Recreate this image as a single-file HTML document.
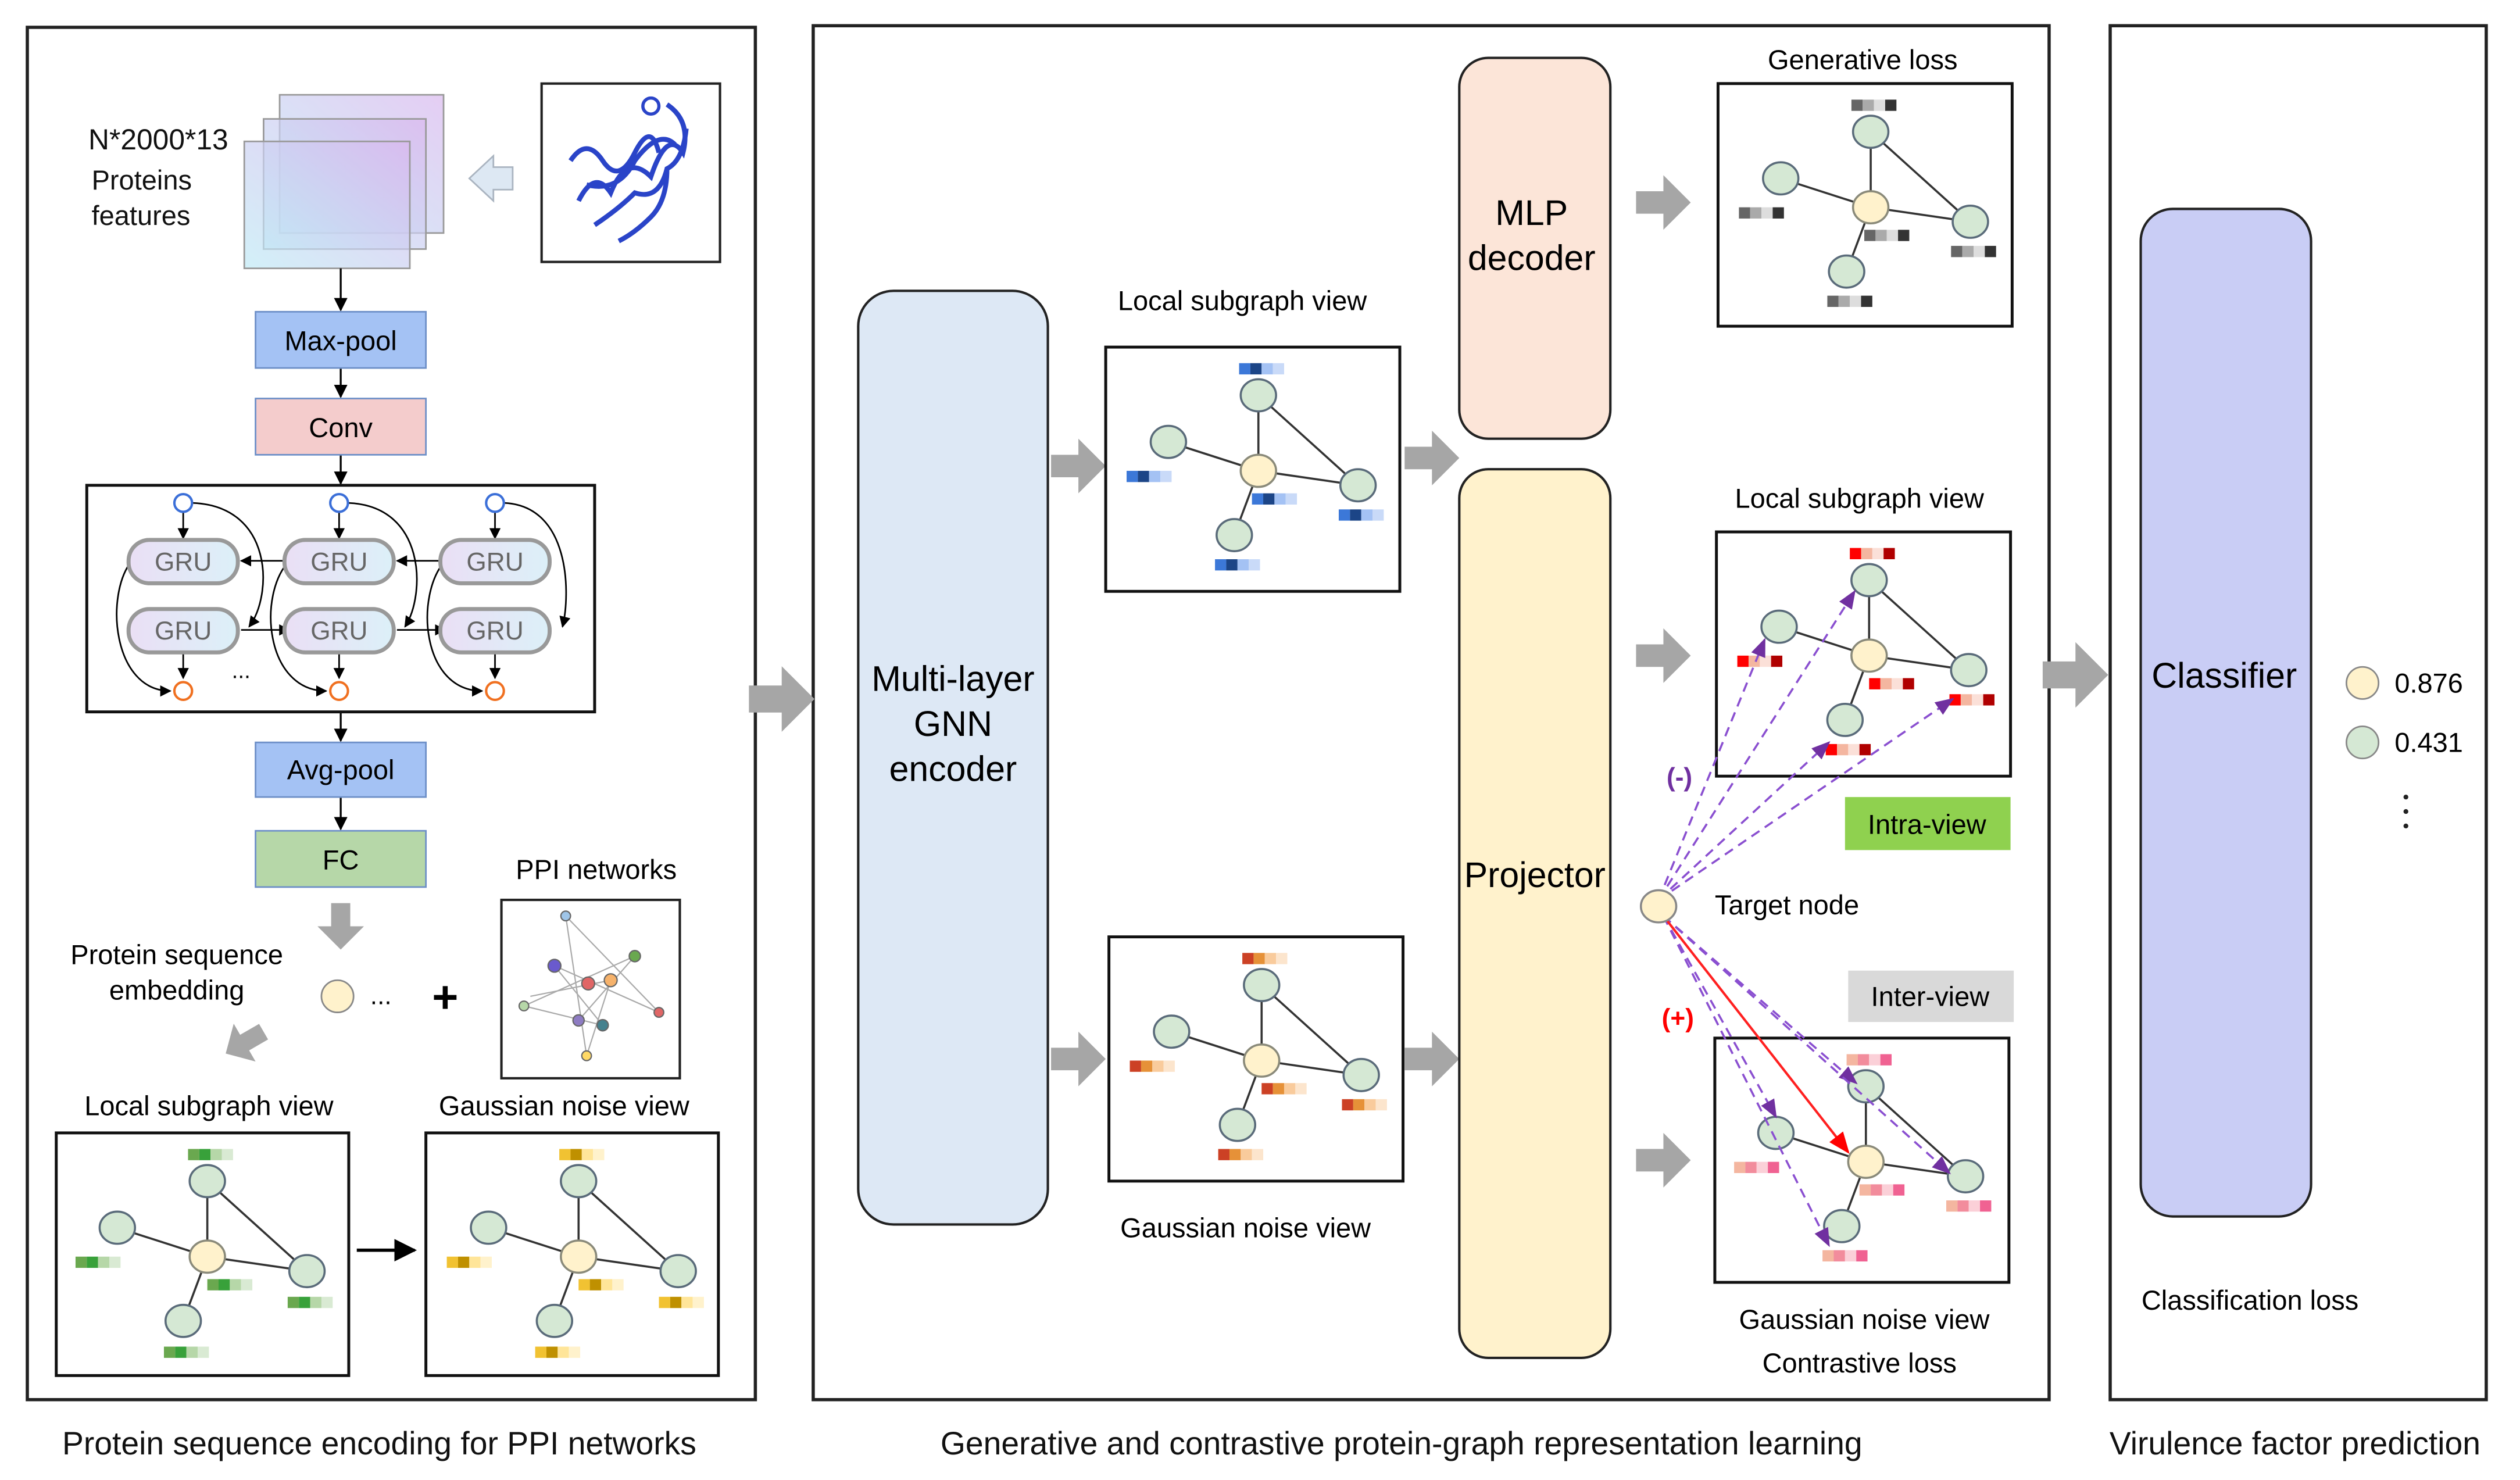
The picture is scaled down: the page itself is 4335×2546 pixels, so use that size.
<!DOCTYPE html>
<html><head><meta charset="utf-8"><style>html,body{margin:0;padding:0;background:#fff}svg{display:block}text{font-family:"Liberation Sans",Arial,sans-serif}</style></head>
<body>
<svg width="4335" height="2546" viewBox="0 0 1568 921" preserveAspectRatio="none" xmlns="http://www.w3.org/2000/svg" xmlns:xlink="http://www.w3.org/1999/xlink">
<defs>
<linearGradient id="fg" x1="0" y1="1" x2="1" y2="0"><stop offset="0" stop-color="#bfeaf5"/><stop offset="1" stop-color="#d9b8ee"/></linearGradient>
<linearGradient id="gru" x1="0" y1="0" x2="1" y2="0"><stop offset="0" stop-color="#eadff5"/><stop offset="1" stop-color="#dcf0f8"/></linearGradient>
<marker id="ah" viewBox="0 0 10 10" refX="9" refY="5" markerWidth="7" markerHeight="7" orient="auto"><path d="M0,0 L10,5 L0,10 z" fill="#000"/></marker>
<marker id="ap" viewBox="0 0 10 10" refX="9" refY="5" markerWidth="9" markerHeight="9" orient="auto"><path d="M0,1 L10,5 L0,9 z" fill="#7030a0"/></marker>
<marker id="ar" viewBox="0 0 10 10" refX="9" refY="5" markerWidth="9" markerHeight="9" orient="auto"><path d="M0,1 L10,5 L0,9 z" fill="#ff0000"/></marker>
<path id="ga" d="M0,-7 H17 V-17 L34,0 L17,17 V7 H0 Z" fill="#a6a6a6"/>
<g id="sk">
<g stroke="#333" stroke-width="1.3"><line x1="0" y1="0" x2="0" y2="-47"/><line x1="0" y1="0" x2="-56" y2="-18"/><line x1="0" y1="0" x2="62" y2="9"/><line x1="0" y1="0" x2="-15" y2="40"/><line x1="0" y1="-47" x2="62" y2="9"/></g>
<g stroke="#5a6b7a" stroke-width="1.3" fill="#d5e8d4"><ellipse cx="0" cy="-47" rx="11" ry="10"/><ellipse cx="-56" cy="-18" rx="11" ry="10"/><ellipse cx="62" cy="9" rx="11" ry="10"/><ellipse cx="-15" cy="40" rx="11" ry="10"/></g>
<ellipse cx="0" cy="0" rx="11" ry="10" fill="#fff2cc" stroke="#8a8a7a" stroke-width="1.3"/>
</g>
<g id="bG"><rect width="7" height="7" fill="#6aa84f"/><rect x="7" width="7" height="7" fill="#38a13a"/><rect x="14" width="7" height="7" fill="#b6d7a8"/><rect x="21" width="7" height="7" fill="#d9ead3"/></g>
<g id="bY"><rect width="7" height="7" fill="#f1c232"/><rect x="7" width="7" height="7" fill="#bf9000"/><rect x="14" width="7" height="7" fill="#ffe599"/><rect x="21" width="7" height="7" fill="#fff2cc"/></g>
<g id="bB"><rect width="7" height="7" fill="#3c78d8"/><rect x="7" width="7" height="7" fill="#1c4587"/><rect x="14" width="7" height="7" fill="#a4c2f4"/><rect x="21" width="7" height="7" fill="#c9daf8"/></g>
<g id="bO"><rect width="7" height="7" fill="#cc4125"/><rect x="7" width="7" height="7" fill="#e69138"/><rect x="14" width="7" height="7" fill="#f9cb9c"/><rect x="21" width="7" height="7" fill="#fce5cd"/></g>
<g id="bK"><rect width="7" height="7" fill="#666"/><rect x="7" width="7" height="7" fill="#aaa"/><rect x="14" width="7" height="7" fill="#ddd"/><rect x="21" width="7" height="7" fill="#333"/></g>
<g id="bR"><rect width="7" height="7" fill="#ff0000"/><rect x="7" width="7" height="7" fill="#f4b6a0"/><rect x="14" width="7" height="7" fill="#fbe0d8"/><rect x="21" width="7" height="7" fill="#b00000"/></g>
<g id="bP"><rect width="7" height="7" fill="#f4b6a0"/><rect x="7" width="7" height="7" fill="#f28c9c"/><rect x="14" width="7" height="7" fill="#fbd0d8"/><rect x="21" width="7" height="7" fill="#f06292"/></g>
</defs>

<g fill="none" stroke="#222" stroke-width="2">
<rect x="17" y="17" width="453" height="854"/>
<rect x="506" y="16" width="769" height="855"/>
<rect x="1313" y="16" width="234" height="855"/>
</g>
<g font-size="20" fill="#111" text-anchor="middle">
<text x="236" y="905">Protein sequence encoding for PPI networks</text>
<text x="872" y="905">Generative and contrastive protein-graph representation learning</text>
<text x="1428" y="905">Virulence factor prediction</text>
</g>

<g stroke="#999" stroke-width="1" fill="url(#fg)" fill-opacity="0.7">
<rect x="174" y="59" width="102" height="86"/>
<rect x="164" y="74" width="101" height="81"/>
<rect x="152" y="88" width="103" height="79"/>
</g>
<text x="55" y="93" font-size="18" fill="#111">N*2000*13</text>
<text x="57" y="118" font-size="17" fill="#111">Proteins</text>
<text x="57" y="140" font-size="17" fill="#111">features</text>
<path d="M292,111 L307,97 V104 H319 V118 H307 V125 Z" fill="#dde8f3" stroke="#aab4c0" stroke-width="1"/>
<rect x="337" y="52" width="111" height="111" fill="#fff" stroke="#222" stroke-width="1.5"/>
<g fill="none" stroke="#2a44c8" stroke-width="3">
<path d="M360,125 q10,-20 20,-5 q10,-25 25,-10 q10,-30 20,-15 q5,-20 -10,-30"/>
<path d="M370,140 q15,-10 25,-20 q15,5 20,-15 q10,-5 12,-25"/>
<path d="M355,100 q10,-15 20,0 q10,15 20,-5 q10,-20 15,0"/>
<path d="M385,150 q10,-5 20,-15 q10,-10 10,-30"/>
<path d="M365,115 q20,5 30,-15 q15,-20 25,-10"/>
</g>
<circle cx="405" cy="66" r="5" fill="none" stroke="#2a44c8" stroke-width="2"/>

<g stroke="#000" stroke-width="1.2" marker-end="url(#ah)">
<line x1="212" y1="167" x2="212" y2="193"/>
<line x1="212" y1="229" x2="212" y2="247"/>
<line x1="212" y1="283" x2="212" y2="301"/>
<line x1="212" y1="443" x2="212" y2="461"/>
<line x1="212" y1="496" x2="212" y2="516"/>
</g>
<rect x="159" y="194" width="106" height="35" fill="#a4c2f4" stroke="#6d8fc7"/>
<text x="212" y="218" font-size="17" text-anchor="middle">Max-pool</text>
<rect x="159" y="248" width="106" height="35" fill="#f4cccc" stroke="#6d8fc7"/>
<text x="212" y="272" font-size="17" text-anchor="middle">Conv</text>
<rect x="54" y="302" width="316" height="141" fill="#fff" stroke="#111" stroke-width="1.8"/>
<rect x="159" y="462" width="106" height="34" fill="#a4c2f4" stroke="#6d8fc7"/>
<text x="212" y="485" font-size="17" text-anchor="middle">Avg-pool</text>
<rect x="159" y="517" width="106" height="35" fill="#b6d7a8" stroke="#6d8fc7"/>
<text x="212" y="541" font-size="17" text-anchor="middle">FC</text>

<g fill="none" stroke="#000" stroke-width="1" marker-end="url(#ah)">
<line x1="114" y1="319" x2="114" y2="335"/><line x1="211" y1="319" x2="211" y2="335"/><line x1="308" y1="319" x2="308" y2="335"/>
<line x1="114" y1="406" x2="114" y2="422"/><line x1="211" y1="406" x2="211" y2="422"/><line x1="308" y1="406" x2="308" y2="422"/>
<line x1="180" y1="349" x2="150" y2="349"/><line x1="277" y1="349" x2="247" y2="349"/>
<line x1="150" y1="392" x2="180" y2="392"/><line x1="247" y1="392" x2="277" y2="392"/>
<path d="M120,313 C170,315 170,370 155,390"/><path d="M217,313 C265,315 265,370 252,390"/><path d="M314,313 C355,315 355,370 350,390"/>
<path d="M82,349 C65,370 70,430 106,430"/><path d="M180,349 C160,370 165,430 203,430"/><path d="M277,349 C258,370 262,430 300,430"/>
</g>
<g stroke="#999" stroke-width="2.5" fill="url(#gru)">
<rect x="80" y="336" width="68" height="27" rx="13"/><rect x="177" y="336" width="68" height="27" rx="13"/><rect x="274" y="336" width="68" height="27" rx="13"/>
<rect x="80" y="379" width="68" height="27" rx="13"/><rect x="177" y="379" width="68" height="27" rx="13"/><rect x="274" y="379" width="68" height="27" rx="13"/>
</g>
<g font-size="16" fill="#666" text-anchor="middle">
<text x="114" y="355">GRU</text><text x="211" y="355">GRU</text><text x="308" y="355">GRU</text>
<text x="114" y="398">GRU</text><text x="211" y="398">GRU</text><text x="308" y="398">GRU</text>
</g>
<g fill="#fff" stroke="#3b6fd8" stroke-width="1.5"><circle cx="114" cy="313" r="5.5"/><circle cx="211" cy="313" r="5.5"/><circle cx="308" cy="313" r="5.5"/></g>
<g fill="#fff" stroke="#f07020" stroke-width="1.5"><circle cx="114" cy="430" r="5.5"/><circle cx="211" cy="430" r="5.5"/><circle cx="308" cy="430" r="5.5"/></g>
<text x="150" y="422" font-size="14" text-anchor="middle">...</text>

<use xlink:href="#ga" transform="translate(212,562) rotate(90) scale(0.85)"/>
<text x="110" y="600" font-size="17" text-anchor="middle">Protein sequence</text>
<text x="110" y="622" font-size="17" text-anchor="middle">embedding</text>
<ellipse cx="210" cy="620" rx="10" ry="10" fill="#fff2cc" stroke="#888"/>
<text x="237" y="625" font-size="16" text-anchor="middle">...</text>
<text x="277" y="630" font-size="28" text-anchor="middle" font-weight="bold">+</text>
<text x="371" y="547" font-size="17" text-anchor="middle">PPI networks</text>
<rect x="312" y="560" width="111" height="111" fill="#fff" stroke="#222" stroke-width="1.5"/>
<g stroke="#aaa" stroke-width="0.8">
<line x1="326" y1="626" x2="395" y2="595"/><line x1="345" y1="601" x2="410" y2="630"/><line x1="352" y1="570" x2="365" y2="657"/><line x1="330" y1="620" x2="380" y2="610"/><line x1="345" y1="601" x2="375" y2="638"/><line x1="395" y1="595" x2="360" y2="635"/><line x1="352" y1="570" x2="410" y2="630"/><line x1="326" y1="626" x2="375" y2="638"/><line x1="380" y1="610" x2="365" y2="657"/>
</g>
<g stroke="#666" stroke-width="0.8"><circle cx="352" cy="570" r="3" fill="#9fc5e8"/><circle cx="345" cy="601" r="4" fill="#6a5acd"/><circle cx="395" cy="595" r="3.5" fill="#6aa84f"/><circle cx="380" cy="610" r="4" fill="#f6b26b"/><circle cx="366" cy="612" r="4" fill="#e06666"/><circle cx="326" cy="626" r="3" fill="#b6d7a8"/><circle cx="360" cy="635" r="3.5" fill="#8e7cc3"/><circle cx="375" cy="638" r="3.5" fill="#45818e"/><circle cx="410" cy="630" r="3" fill="#e06666"/><circle cx="365" cy="657" r="3" fill="#ffd966"/></g>
<use xlink:href="#ga" transform="translate(164,642) rotate(150) scale(0.8)"/>
<text x="130" y="694" font-size="17" text-anchor="middle">Local subgraph view</text>
<text x="351" y="694" font-size="17" text-anchor="middle">Gaussian noise view</text>
<rect x="35" y="705" width="182" height="151" fill="#fff" stroke="#111" stroke-width="1.8"/>
<rect x="265" y="705" width="182" height="151" fill="#fff" stroke="#111" stroke-width="1.8"/>
<line x1="222" y1="778" x2="258" y2="778" stroke="#000" stroke-width="2" marker-end="url(#ah)"/>
<g transform="translate(129,782)"><use xlink:href="#sk"/><use xlink:href="#bG" x="-12" y="-67"/><use xlink:href="#bG" x="-82" y="0"/><use xlink:href="#bG" x="50" y="25"/><use xlink:href="#bG" x="-27" y="56"/><use xlink:href="#bG" x="0" y="14"/></g>
<g transform="translate(360,782)"><use xlink:href="#sk"/><use xlink:href="#bY" x="-12" y="-67"/><use xlink:href="#bY" x="-82" y="0"/><use xlink:href="#bY" x="50" y="25"/><use xlink:href="#bY" x="-27" y="56"/><use xlink:href="#bY" x="0" y="14"/></g>

<use xlink:href="#ga" transform="translate(466,435) scale(1.2)"/>
<rect x="534" y="181" width="118" height="581" rx="22" fill="#dde8f5" stroke="#222" stroke-width="1.5"/>
<g font-size="22" text-anchor="middle"><text x="593" y="430">Multi-layer</text><text x="593" y="458">GNN</text><text x="593" y="486">encoder</text></g>
<use xlink:href="#ga" transform="translate(654,290)"/>
<use xlink:href="#ga" transform="translate(654,659)"/>
<text x="773" y="193" font-size="17" text-anchor="middle">Local subgraph view</text>
<rect x="688" y="216" width="183" height="152" fill="#fff" stroke="#111" stroke-width="1.8"/>
<g transform="translate(783,293)"><use xlink:href="#sk"/><use xlink:href="#bB" x="-12" y="-67"/><use xlink:href="#bB" x="-82" y="0"/><use xlink:href="#bB" x="50" y="24"/><use xlink:href="#bB" x="-27" y="55"/><use xlink:href="#bB" x="-4" y="14"/></g>
<rect x="690" y="583" width="183" height="152" fill="#fff" stroke="#111" stroke-width="1.8"/>
<g transform="translate(785,660)"><use xlink:href="#sk"/><use xlink:href="#bO" x="-12" y="-67"/><use xlink:href="#bO" x="-82" y="0"/><use xlink:href="#bO" x="50" y="24"/><use xlink:href="#bO" x="-27" y="55"/><use xlink:href="#bO" x="0" y="14"/></g>
<text x="775" y="770" font-size="17" text-anchor="middle">Gaussian noise view</text>
<use xlink:href="#ga" transform="translate(874,285)"/>
<use xlink:href="#ga" transform="translate(874,659)"/>
<rect x="908" y="36" width="94" height="237" rx="18" fill="#fce5d8" stroke="#222" stroke-width="1.5"/>
<g font-size="22" text-anchor="middle"><text x="953" y="140">MLP</text><text x="953" y="168">decoder</text></g>
<rect x="908" y="292" width="94" height="553" rx="18" fill="#fff2cc" stroke="#222" stroke-width="1.5"/>
<text x="955" y="552" font-size="22" text-anchor="middle">Projector</text>
<use xlink:href="#ga" transform="translate(1018,126)"/>
<use xlink:href="#ga" transform="translate(1018,408)"/>
<use xlink:href="#ga" transform="translate(1018,722)"/>
<text x="1159" y="43" font-size="17" text-anchor="middle">Generative loss</text>
<rect x="1069" y="52" width="183" height="151" fill="#fff" stroke="#111" stroke-width="1.8"/>
<g transform="translate(1164,129)"><use xlink:href="#sk"/><use xlink:href="#bK" x="-12" y="-67"/><use xlink:href="#bK" x="-82" y="0"/><use xlink:href="#bK" x="50" y="24"/><use xlink:href="#bK" x="-27" y="55"/><use xlink:href="#bK" x="-4" y="14"/></g>
<text x="1157" y="316" font-size="17" text-anchor="middle">Local subgraph view</text>
<rect x="1068" y="331" width="183" height="152" fill="#fff" stroke="#111" stroke-width="1.8"/>
<g transform="translate(1163,408)"><use xlink:href="#sk"/><use xlink:href="#bR" x="-12" y="-67"/><use xlink:href="#bR" x="-82" y="0"/><use xlink:href="#bR" x="50" y="24"/><use xlink:href="#bR" x="-27" y="55"/><use xlink:href="#bR" x="0" y="14"/></g>
<rect x="1148" y="496" width="103" height="33" fill="#8fd14f"/>
<text x="1199" y="519" font-size="17" text-anchor="middle">Intra-view</text>
<rect x="1150" y="604" width="103" height="32" fill="#d9d9d9"/>
<text x="1201" y="626" font-size="17" text-anchor="middle">Inter-view</text>
<rect x="1067" y="646" width="183" height="152" fill="#fff" stroke="#111" stroke-width="1.8"/>
<g transform="translate(1161,723)"><use xlink:href="#sk"/><use xlink:href="#bP" x="-12" y="-67"/><use xlink:href="#bP" x="-82" y="0"/><use xlink:href="#bP" x="50" y="24"/><use xlink:href="#bP" x="-27" y="55"/><use xlink:href="#bP" x="-4" y="14"/></g>
<text x="1160" y="827" font-size="17" text-anchor="middle">Gaussian noise view</text>
<text x="1157" y="854" font-size="17" text-anchor="middle">Contrastive loss</text>
<g stroke="#8a4fd0" stroke-width="1.3" stroke-dasharray="6,4" fill="none" marker-end="url(#ap)">
<line x1="1032" y1="560" x2="1098" y2="398"/>
<line x1="1032" y1="560" x2="1154" y2="368"/>
<line x1="1032" y1="560" x2="1138" y2="462"/>
<line x1="1032" y1="560" x2="1215" y2="435"/>
<line x1="1035" y1="570" x2="1155" y2="674"/>
<line x1="1035" y1="570" x2="1105" y2="695"/>
<line x1="1035" y1="570" x2="1138" y2="775"/>
<line x1="1035" y1="570" x2="1213" y2="730"/>
</g>
<line x1="1035" y1="570" x2="1150" y2="717" stroke="#ff2020" stroke-width="1.5" marker-end="url(#ar)"/>
<ellipse cx="1032" cy="564" rx="11" ry="10" fill="#fff2cc" stroke="#888" stroke-width="1.3"/>
<text x="1067" y="569" font-size="17">Target node</text>
<text x="1045" y="489" font-size="16" fill="#7030a0" text-anchor="middle" font-weight="bold">(-)</text>
<text x="1044" y="639" font-size="16" fill="#ff0000" text-anchor="middle" font-weight="bold">(+)</text>

<use xlink:href="#ga" transform="translate(1271,420) scale(1.2)"/>
<rect x="1332" y="130" width="106" height="627" rx="20" fill="#c9cdf5" stroke="#222" stroke-width="1.5"/>
<text x="1384" y="428" font-size="22" text-anchor="middle">Classifier</text>
<ellipse cx="1470" cy="425" rx="10" ry="10" fill="#fff2cc" stroke="#888"/>
<ellipse cx="1470" cy="462" rx="10" ry="10" fill="#d5e8d4" stroke="#888"/>
<text x="1490" y="431" font-size="17">0.876</text>
<text x="1490" y="468" font-size="17">0.431</text>
<g fill="#222"><circle cx="1497" cy="496" r="1.5"/><circle cx="1497" cy="505" r="1.5"/><circle cx="1497" cy="514" r="1.5"/></g>
<text x="1400" y="815" font-size="17" text-anchor="middle">Classification loss</text>
</svg>
</body></html>
